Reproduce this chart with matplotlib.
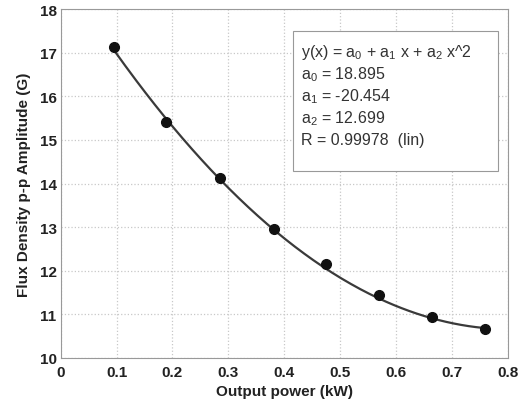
import numpy as np
import matplotlib.pyplot as plt
from matplotlib.patches import Rectangle

plt.rcParams["font.family"] = ["Liberation Sans", "DejaVu Sans"]
plt.rcParams["mathtext.default"] = "regular"

# measured points
power_kw = [0.095, 0.189, 0.285, 0.381, 0.475, 0.570, 0.665, 0.760]
flux_pp = [17.13, 15.42, 14.12, 12.95, 12.15, 11.45, 10.93, 10.66]

# quadratic fit coefficients as printed on the chart
a0, a1, a2 = 18.895, -20.454, 12.699
r_val = 0.99978

x_ticks = [0, 0.1, 0.2, 0.3, 0.4, 0.5, 0.6, 0.7, 0.8]
y_ticks = [10, 11, 12, 13, 14, 15, 16, 17, 18]

fig = plt.figure(figsize=(5.3, 4.06), dpi=100)
ax = fig.add_axes([0.1145, 0.1158, 0.8435, 0.8592])

xf = np.linspace(min(power_kw), max(power_kw), 200)
yf = a0 + a1 * xf + a2 * xf ** 2
ax.plot(xf, yf, color="#3a3a3a", lw=1.6, zorder=3)
ax.plot(power_kw, flux_pp, "o", color="#111111", ms=7, zorder=4)

ax.set_xlim(0, 0.8)
ax.set_ylim(10, 18)
ax.set_xticks(x_ticks)
ax.set_xticklabels(["0"] + [f"{t:.1f}" for t in x_ticks[1:]])
ax.set_yticks(y_ticks)
ax.grid(True, color="#c8c8c8", linestyle=":", linewidth=0.9)
ax.set_axisbelow(True)
for s in ax.spines.values():
    s.set_color("#999999")
ax.tick_params(length=0, labelsize=11, colors="#222222")
ax.tick_params(axis="x", pad=5)
ax.tick_params(axis="y", pad=3)
for lab in ax.get_xticklabels() + ax.get_yticklabels():
    lab.set_fontweight("bold")

ax.set_xlabel("Output power (kW)", fontsize=11, fontweight="bold", color="#222222", labelpad=4)
ax.set_ylabel("Flux Density p-p Amplitude (G)", fontsize=11, fontweight="bold", color="#222222", labelpad=6)

# fit results box
ax.add_patch(Rectangle((0.52, 0.536), 0.458, 0.401, transform=ax.transAxes,
                       facecolor="white", edgecolor="#999999", lw=0.8, zorder=5))
lines = [
    "y(x) = a$_0$ + a$_1$ x + a$_2$ x^2",
    f"a$_0$ = {a0:.3f}",
    f"a$_1$ = {a1:.3f}",
    f"a$_2$ = {a2:.3f}",
    f"R = {r_val:.5f}  (lin)",
]
for i, txt in enumerate(lines):
    ax.text(0.537, 0.880 - i * 0.0635, txt, transform=ax.transAxes,
            fontsize=11.5, color="#333333", va="center", ha="left", zorder=6)

fig.savefig("out.png", dpi=100)
